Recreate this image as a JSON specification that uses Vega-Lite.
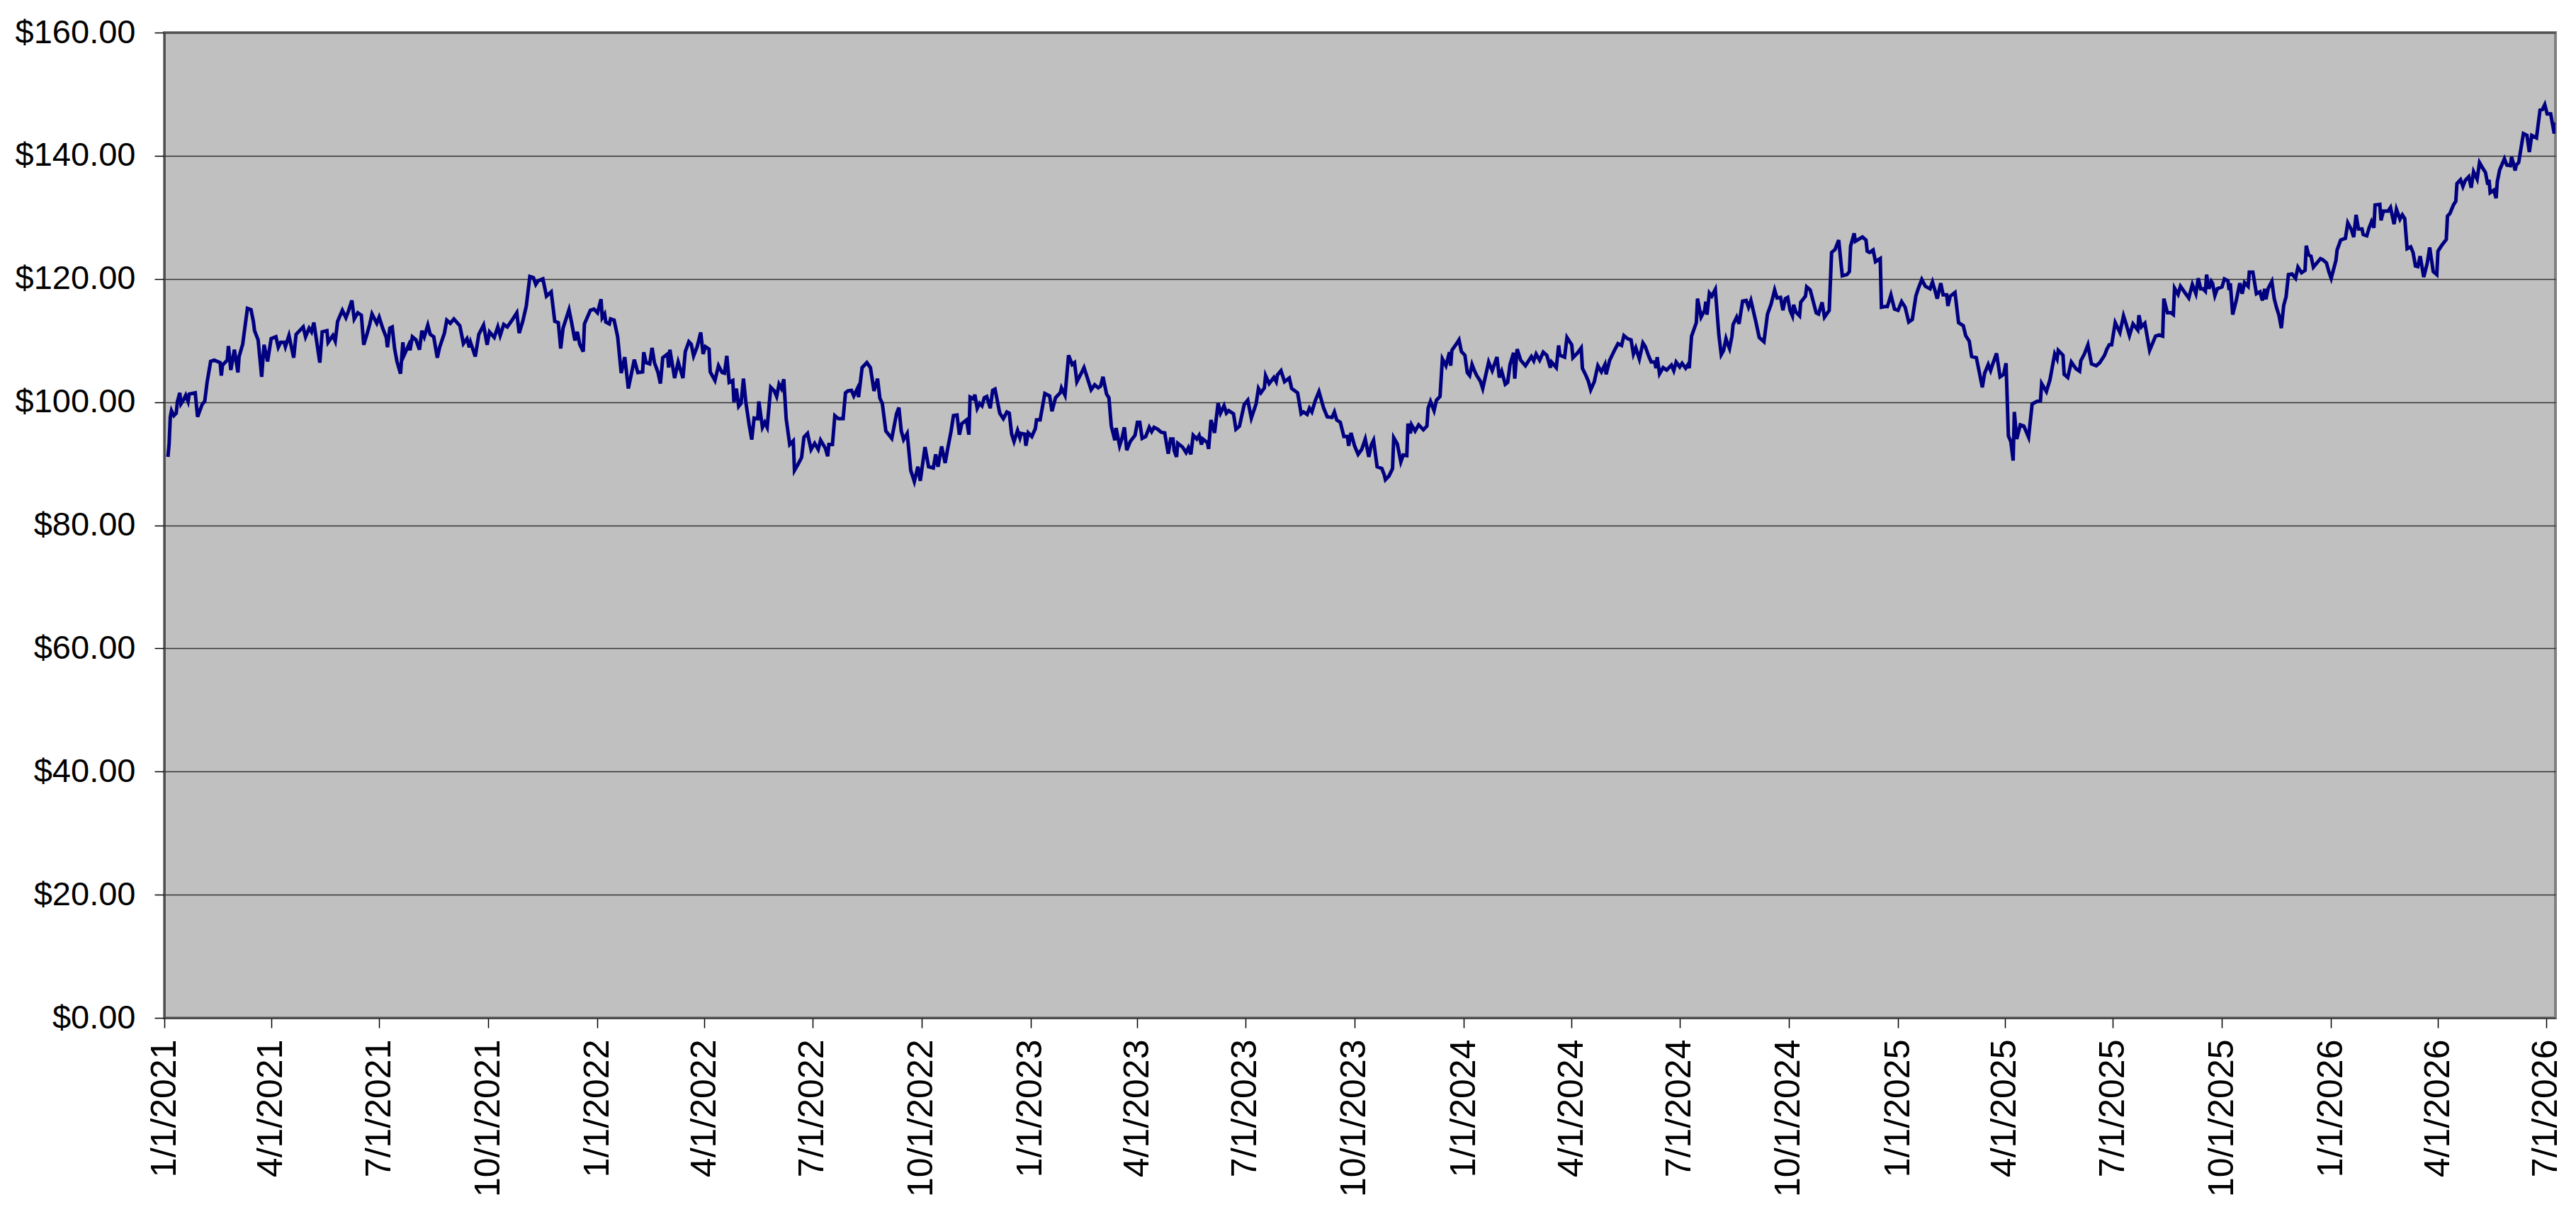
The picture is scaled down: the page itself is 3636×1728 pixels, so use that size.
{
  "$schema": "https://vega.github.io/schema/vega-lite/v6.json",
  "width": 3375,
  "height": 1391,
  "autosize": {"type": "none"},
  "padding": {"left": 232, "top": 46, "right": 29, "bottom": 291},
  "background": "white",
  "config": {
    "font": "Liberation Sans",
    "view": {"fill": "#C0C0C0", "stroke": "#808080", "strokeWidth": 4}
  },
  "data": {
    "values": [
      {"d": "2021-01-04", "p": 91.1}, {"d": "2021-01-05", "p": 93.2}, {"d": "2021-01-06", "p": 97.6}, {"d": "2021-01-07", "p": 98.6},
      {"d": "2021-01-09", "p": 97.8}, {"d": "2021-01-11", "p": 98.2}, {"d": "2021-01-12", "p": 100.1}, {"d": "2021-01-14", "p": 101.5},
      {"d": "2021-01-15", "p": 99.7}, {"d": "2021-01-17", "p": 100.3}, {"d": "2021-01-19", "p": 101.1}, {"d": "2021-01-21", "p": 100.1},
      {"d": "2021-01-22", "p": 101.3}, {"d": "2021-01-27", "p": 101.5}, {"d": "2021-01-29", "p": 97.6}, {"d": "2021-02-02", "p": 99.7},
      {"d": "2021-02-04", "p": 100.1}, {"d": "2021-02-06", "p": 103.2}, {"d": "2021-02-09", "p": 106.6}, {"d": "2021-02-12", "p": 106.8},
      {"d": "2021-02-17", "p": 106.4}, {"d": "2021-02-18", "p": 104.3}, {"d": "2021-02-19", "p": 106.0}, {"d": "2021-02-23", "p": 106.8},
      {"d": "2021-02-24", "p": 109.1}, {"d": "2021-02-26", "p": 105.2}, {"d": "2021-03-01", "p": 108.5}, {"d": "2021-03-04", "p": 104.8},
      {"d": "2021-03-05", "p": 107.4}, {"d": "2021-03-08", "p": 109.4}, {"d": "2021-03-12", "p": 115.2}, {"d": "2021-03-15", "p": 115.0},
      {"d": "2021-03-17", "p": 113.1}, {"d": "2021-03-18", "p": 111.6}, {"d": "2021-03-21", "p": 110.1}, {"d": "2021-03-24", "p": 104.1},
      {"d": "2021-03-26", "p": 109.3}, {"d": "2021-03-29", "p": 106.6}, {"d": "2021-04-01", "p": 110.3}, {"d": "2021-04-05", "p": 110.6},
      {"d": "2021-04-07", "p": 108.9}, {"d": "2021-04-09", "p": 109.7}, {"d": "2021-04-12", "p": 109.7}, {"d": "2021-04-13", "p": 109.0},
      {"d": "2021-04-16", "p": 110.8}, {"d": "2021-04-20", "p": 107.2}, {"d": "2021-04-22", "p": 111.0}, {"d": "2021-04-28", "p": 112.2},
      {"d": "2021-04-30", "p": 110.6}, {"d": "2021-05-03", "p": 112.0}, {"d": "2021-05-05", "p": 111.4}, {"d": "2021-05-07", "p": 112.9},
      {"d": "2021-05-12", "p": 106.4}, {"d": "2021-05-14", "p": 111.4}, {"d": "2021-05-18", "p": 111.6}, {"d": "2021-05-19", "p": 109.7},
      {"d": "2021-05-23", "p": 110.8}, {"d": "2021-05-25", "p": 109.9}, {"d": "2021-05-27", "p": 113.1}, {"d": "2021-05-31", "p": 114.9},
      {"d": "2021-06-03", "p": 113.7}, {"d": "2021-06-05", "p": 114.7}, {"d": "2021-06-08", "p": 116.5}, {"d": "2021-06-10", "p": 113.5},
      {"d": "2021-06-13", "p": 114.5}, {"d": "2021-06-16", "p": 114.1}, {"d": "2021-06-18", "p": 109.3}, {"d": "2021-06-21", "p": 111.2},
      {"d": "2021-06-23", "p": 112.6}, {"d": "2021-06-25", "p": 114.3}, {"d": "2021-06-29", "p": 112.8}, {"d": "2021-07-01", "p": 113.8},
      {"d": "2021-07-04", "p": 112.0}, {"d": "2021-07-07", "p": 110.5}, {"d": "2021-07-08", "p": 108.9}, {"d": "2021-07-10", "p": 112.0},
      {"d": "2021-07-12", "p": 112.2}, {"d": "2021-07-14", "p": 108.7}, {"d": "2021-07-16", "p": 106.6}, {"d": "2021-07-19", "p": 104.6},
      {"d": "2021-07-21", "p": 109.7}, {"d": "2021-07-22", "p": 107.6}, {"d": "2021-07-26", "p": 109.3}, {"d": "2021-07-27", "p": 108.4},
      {"d": "2021-07-29", "p": 110.6}, {"d": "2021-08-01", "p": 110.1}, {"d": "2021-08-04", "p": 108.5}, {"d": "2021-08-06", "p": 111.6},
      {"d": "2021-08-08", "p": 110.6}, {"d": "2021-08-11", "p": 112.5}, {"d": "2021-08-13", "p": 111.0}, {"d": "2021-08-16", "p": 110.6},
      {"d": "2021-08-19", "p": 107.2}, {"d": "2021-08-21", "p": 108.9}, {"d": "2021-08-25", "p": 111.2}, {"d": "2021-08-27", "p": 113.3},
      {"d": "2021-08-30", "p": 112.8}, {"d": "2021-09-02", "p": 113.5}, {"d": "2021-09-07", "p": 112.4}, {"d": "2021-09-10", "p": 109.5},
      {"d": "2021-09-13", "p": 110.3}, {"d": "2021-09-15", "p": 108.9}, {"d": "2021-09-16", "p": 109.7}, {"d": "2021-09-20", "p": 107.4},
      {"d": "2021-09-23", "p": 111.0}, {"d": "2021-09-27", "p": 112.5}, {"d": "2021-09-30", "p": 109.3}, {"d": "2021-10-02", "p": 111.4},
      {"d": "2021-10-06", "p": 110.5}, {"d": "2021-10-09", "p": 112.2}, {"d": "2021-10-11", "p": 110.8}, {"d": "2021-10-14", "p": 112.6},
      {"d": "2021-10-17", "p": 112.2}, {"d": "2021-10-21", "p": 113.3}, {"d": "2021-10-25", "p": 114.5}, {"d": "2021-10-27", "p": 111.2},
      {"d": "2021-10-30", "p": 113.1}, {"d": "2021-11-02", "p": 115.6}, {"d": "2021-11-05", "p": 120.4}, {"d": "2021-11-08", "p": 120.2},
      {"d": "2021-11-10", "p": 119.1}, {"d": "2021-11-12", "p": 119.7}, {"d": "2021-11-16", "p": 120.0}, {"d": "2021-11-19", "p": 117.2},
      {"d": "2021-11-23", "p": 117.9}, {"d": "2021-11-26", "p": 113.1}, {"d": "2021-11-29", "p": 112.9}, {"d": "2021-12-01", "p": 108.7},
      {"d": "2021-12-03", "p": 112.0}, {"d": "2021-12-08", "p": 115.0}, {"d": "2021-12-10", "p": 113.1}, {"d": "2021-12-13", "p": 110.0},
      {"d": "2021-12-15", "p": 111.4}, {"d": "2021-12-17", "p": 109.4}, {"d": "2021-12-20", "p": 108.2}, {"d": "2021-12-21", "p": 112.7},
      {"d": "2021-12-26", "p": 114.9}, {"d": "2021-12-29", "p": 115.1}, {"d": "2022-01-01", "p": 114.5}, {"d": "2022-01-04", "p": 116.7},
      {"d": "2022-01-05", "p": 113.7}, {"d": "2022-01-07", "p": 114.3}, {"d": "2022-01-08", "p": 113.0}, {"d": "2022-01-11", "p": 112.7},
      {"d": "2022-01-12", "p": 113.5}, {"d": "2022-01-15", "p": 113.3}, {"d": "2022-01-18", "p": 110.6}, {"d": "2022-01-21", "p": 104.7},
      {"d": "2022-01-24", "p": 107.3}, {"d": "2022-01-27", "p": 102.2}, {"d": "2022-01-30", "p": 105.0}, {"d": "2022-02-01", "p": 106.9},
      {"d": "2022-02-04", "p": 104.8}, {"d": "2022-02-08", "p": 104.9}, {"d": "2022-02-09", "p": 108.1}, {"d": "2022-02-11", "p": 106.4},
      {"d": "2022-02-14", "p": 106.2}, {"d": "2022-02-16", "p": 108.8}, {"d": "2022-02-18", "p": 106.4}, {"d": "2022-02-21", "p": 104.8},
      {"d": "2022-02-23", "p": 103.0}, {"d": "2022-02-25", "p": 107.2}, {"d": "2022-03-01", "p": 107.8}, {"d": "2022-03-02", "p": 105.6},
      {"d": "2022-03-03", "p": 108.5}, {"d": "2022-03-07", "p": 103.9}, {"d": "2022-03-10", "p": 106.5}, {"d": "2022-03-14", "p": 103.9},
      {"d": "2022-03-16", "p": 108.2}, {"d": "2022-03-19", "p": 109.8}, {"d": "2022-03-21", "p": 109.4}, {"d": "2022-03-23", "p": 107.5},
      {"d": "2022-03-26", "p": 109.0}, {"d": "2022-03-29", "p": 111.3}, {"d": "2022-03-31", "p": 107.8}, {"d": "2022-04-02", "p": 109.0},
      {"d": "2022-04-05", "p": 108.6}, {"d": "2022-04-06", "p": 104.9}, {"d": "2022-04-10", "p": 103.5}, {"d": "2022-04-13", "p": 105.9},
      {"d": "2022-04-16", "p": 104.8}, {"d": "2022-04-18", "p": 104.7}, {"d": "2022-04-20", "p": 107.5}, {"d": "2022-04-22", "p": 103.2},
      {"d": "2022-04-25", "p": 103.5}, {"d": "2022-04-26", "p": 100.0}, {"d": "2022-04-28", "p": 102.2}, {"d": "2022-04-30", "p": 99.3},
      {"d": "2022-05-02", "p": 99.8}, {"d": "2022-05-04", "p": 103.8}, {"d": "2022-05-06", "p": 100.0}, {"d": "2022-05-09", "p": 96.1},
      {"d": "2022-05-11", "p": 93.9}, {"d": "2022-05-13", "p": 97.4}, {"d": "2022-05-16", "p": 97.3}, {"d": "2022-05-17", "p": 100.1},
      {"d": "2022-05-20", "p": 95.9}, {"d": "2022-05-22", "p": 96.7}, {"d": "2022-05-24", "p": 95.9}, {"d": "2022-05-27", "p": 102.4},
      {"d": "2022-05-30", "p": 101.8}, {"d": "2022-06-01", "p": 100.9}, {"d": "2022-06-03", "p": 102.9}, {"d": "2022-06-05", "p": 102.2},
      {"d": "2022-06-07", "p": 103.7}, {"d": "2022-06-09", "p": 97.3}, {"d": "2022-06-12", "p": 93.1}, {"d": "2022-06-15", "p": 93.7},
      {"d": "2022-06-16", "p": 88.9}, {"d": "2022-06-19", "p": 89.9}, {"d": "2022-06-22", "p": 91.0}, {"d": "2022-06-24", "p": 94.3},
      {"d": "2022-06-27", "p": 94.9}, {"d": "2022-06-30", "p": 92.3}, {"d": "2022-07-03", "p": 93.3}, {"d": "2022-07-06", "p": 92.3},
      {"d": "2022-07-08", "p": 93.8}, {"d": "2022-07-12", "p": 92.5}, {"d": "2022-07-14", "p": 91.2}, {"d": "2022-07-15", "p": 93.1},
      {"d": "2022-07-18", "p": 93.1}, {"d": "2022-07-20", "p": 97.8}, {"d": "2022-07-23", "p": 97.3}, {"d": "2022-07-27", "p": 97.3},
      {"d": "2022-07-29", "p": 101.5}, {"d": "2022-07-31", "p": 101.8}, {"d": "2022-08-03", "p": 101.9}, {"d": "2022-08-05", "p": 101.0},
      {"d": "2022-08-08", "p": 102.2}, {"d": "2022-08-09", "p": 100.8}, {"d": "2022-08-12", "p": 105.6}, {"d": "2022-08-16", "p": 106.4},
      {"d": "2022-08-19", "p": 105.6}, {"d": "2022-08-22", "p": 101.8}, {"d": "2022-08-25", "p": 103.8}, {"d": "2022-08-27", "p": 100.6},
      {"d": "2022-08-29", "p": 99.8}, {"d": "2022-09-01", "p": 95.3}, {"d": "2022-09-06", "p": 94.1}, {"d": "2022-09-10", "p": 98.1},
      {"d": "2022-09-12", "p": 99.1}, {"d": "2022-09-14", "p": 95.3}, {"d": "2022-09-16", "p": 93.9}, {"d": "2022-09-19", "p": 94.9},
      {"d": "2022-09-22", "p": 88.9}, {"d": "2022-09-25", "p": 87.1}, {"d": "2022-09-28", "p": 89.5}, {"d": "2022-09-30", "p": 87.2},
      {"d": "2022-10-04", "p": 92.7}, {"d": "2022-10-07", "p": 89.5}, {"d": "2022-10-11", "p": 89.3}, {"d": "2022-10-13", "p": 91.5},
      {"d": "2022-10-15", "p": 89.5}, {"d": "2022-10-18", "p": 92.8}, {"d": "2022-10-21", "p": 90.1}, {"d": "2022-10-23", "p": 92.3},
      {"d": "2022-10-26", "p": 95.3}, {"d": "2022-10-28", "p": 97.8}, {"d": "2022-10-31", "p": 97.9}, {"d": "2022-11-02", "p": 94.7},
      {"d": "2022-11-04", "p": 96.5}, {"d": "2022-11-08", "p": 97.1}, {"d": "2022-11-10", "p": 94.7}, {"d": "2022-11-11", "p": 100.8},
      {"d": "2022-11-14", "p": 100.5}, {"d": "2022-11-15", "p": 101.2}, {"d": "2022-11-17", "p": 99.0}, {"d": "2022-11-19", "p": 99.8},
      {"d": "2022-11-21", "p": 99.4}, {"d": "2022-11-23", "p": 100.7}, {"d": "2022-11-25", "p": 100.9}, {"d": "2022-11-28", "p": 99.0},
      {"d": "2022-11-30", "p": 101.9}, {"d": "2022-12-02", "p": 102.1}, {"d": "2022-12-06", "p": 98.2}, {"d": "2022-12-09", "p": 97.3},
      {"d": "2022-12-12", "p": 98.4}, {"d": "2022-12-14", "p": 98.2}, {"d": "2022-12-16", "p": 94.8}, {"d": "2022-12-18", "p": 93.6},
      {"d": "2022-12-21", "p": 95.4}, {"d": "2022-12-23", "p": 94.2}, {"d": "2022-12-24", "p": 94.9}, {"d": "2022-12-27", "p": 94.8},
      {"d": "2022-12-28", "p": 92.9}, {"d": "2022-12-30", "p": 95.0}, {"d": "2023-01-02", "p": 94.4}, {"d": "2023-01-05", "p": 95.7},
      {"d": "2023-01-06", "p": 97.1}, {"d": "2023-01-09", "p": 97.1}, {"d": "2023-01-13", "p": 101.4}, {"d": "2023-01-17", "p": 101.0},
      {"d": "2023-01-19", "p": 98.5}, {"d": "2023-01-22", "p": 100.7}, {"d": "2023-01-24", "p": 101.1}, {"d": "2023-01-26", "p": 101.5},
      {"d": "2023-01-27", "p": 102.3}, {"d": "2023-01-30", "p": 101.1}, {"d": "2023-02-02", "p": 107.6}, {"d": "2023-02-05", "p": 106.1},
      {"d": "2023-02-07", "p": 106.4}, {"d": "2023-02-09", "p": 103.3}, {"d": "2023-02-13", "p": 104.8}, {"d": "2023-02-15", "p": 105.6},
      {"d": "2023-02-18", "p": 103.8}, {"d": "2023-02-21", "p": 102.0}, {"d": "2023-02-24", "p": 102.8}, {"d": "2023-02-27", "p": 102.3},
      {"d": "2023-03-01", "p": 102.6}, {"d": "2023-03-03", "p": 104.1}, {"d": "2023-03-06", "p": 101.3}, {"d": "2023-03-08", "p": 100.7},
      {"d": "2023-03-10", "p": 96.1}, {"d": "2023-03-13", "p": 93.8}, {"d": "2023-03-14", "p": 95.8}, {"d": "2023-03-17", "p": 92.9},
      {"d": "2023-03-19", "p": 94.1}, {"d": "2023-03-21", "p": 95.9}, {"d": "2023-03-23", "p": 92.2}, {"d": "2023-03-26", "p": 93.6},
      {"d": "2023-03-30", "p": 94.6}, {"d": "2023-04-01", "p": 96.7}, {"d": "2023-04-03", "p": 96.7}, {"d": "2023-04-05", "p": 94.1},
      {"d": "2023-04-08", "p": 94.4}, {"d": "2023-04-11", "p": 95.9}, {"d": "2023-04-13", "p": 95.2}, {"d": "2023-04-15", "p": 95.9},
      {"d": "2023-04-18", "p": 95.6}, {"d": "2023-04-21", "p": 95.1}, {"d": "2023-04-24", "p": 95.0}, {"d": "2023-04-27", "p": 91.6},
      {"d": "2023-04-29", "p": 94.0}, {"d": "2023-05-01", "p": 94.0}, {"d": "2023-05-02", "p": 92.1}, {"d": "2023-05-04", "p": 91.1},
      {"d": "2023-05-05", "p": 93.3}, {"d": "2023-05-09", "p": 92.7}, {"d": "2023-05-12", "p": 91.8}, {"d": "2023-05-14", "p": 92.6},
      {"d": "2023-05-16", "p": 91.5}, {"d": "2023-05-18", "p": 94.6}, {"d": "2023-05-21", "p": 94.0}, {"d": "2023-05-23", "p": 94.6},
      {"d": "2023-05-25", "p": 93.1}, {"d": "2023-05-26", "p": 94.0}, {"d": "2023-05-30", "p": 93.4}, {"d": "2023-05-31", "p": 92.4},
      {"d": "2023-06-02", "p": 97.1}, {"d": "2023-06-05", "p": 95.0}, {"d": "2023-06-08", "p": 99.8}, {"d": "2023-06-10", "p": 98.2},
      {"d": "2023-06-13", "p": 99.4}, {"d": "2023-06-15", "p": 98.2}, {"d": "2023-06-17", "p": 98.6}, {"d": "2023-06-21", "p": 98.1},
      {"d": "2023-06-23", "p": 95.6}, {"d": "2023-06-26", "p": 96.1}, {"d": "2023-06-30", "p": 99.6}, {"d": "2023-07-03", "p": 100.3},
      {"d": "2023-07-06", "p": 97.4}, {"d": "2023-07-10", "p": 99.7}, {"d": "2023-07-12", "p": 102.2}, {"d": "2023-07-14", "p": 101.5},
      {"d": "2023-07-17", "p": 102.3}, {"d": "2023-07-18", "p": 104.3}, {"d": "2023-07-21", "p": 103.0}, {"d": "2023-07-25", "p": 104.0},
      {"d": "2023-07-27", "p": 103.3}, {"d": "2023-07-28", "p": 104.4}, {"d": "2023-07-31", "p": 105.1}, {"d": "2023-08-03", "p": 103.3},
      {"d": "2023-08-07", "p": 103.9}, {"d": "2023-08-09", "p": 102.2}, {"d": "2023-08-14", "p": 101.5}, {"d": "2023-08-17", "p": 98.1},
      {"d": "2023-08-19", "p": 98.4}, {"d": "2023-08-22", "p": 98.0}, {"d": "2023-08-24", "p": 99.0}, {"d": "2023-08-26", "p": 98.4},
      {"d": "2023-08-29", "p": 100.3}, {"d": "2023-09-01", "p": 101.7}, {"d": "2023-09-05", "p": 99.0}, {"d": "2023-09-08", "p": 97.6},
      {"d": "2023-09-12", "p": 97.5}, {"d": "2023-09-14", "p": 98.4}, {"d": "2023-09-16", "p": 97.1}, {"d": "2023-09-19", "p": 96.7},
      {"d": "2023-09-22", "p": 94.4}, {"d": "2023-09-25", "p": 94.4}, {"d": "2023-09-26", "p": 92.9}, {"d": "2023-09-28", "p": 95.0},
      {"d": "2023-10-01", "p": 92.9}, {"d": "2023-10-04", "p": 91.5}, {"d": "2023-10-07", "p": 92.3}, {"d": "2023-10-10", "p": 94.0},
      {"d": "2023-10-13", "p": 91.1}, {"d": "2023-10-15", "p": 93.0}, {"d": "2023-10-17", "p": 93.8}, {"d": "2023-10-20", "p": 89.5},
      {"d": "2023-10-24", "p": 89.2}, {"d": "2023-10-26", "p": 88.2}, {"d": "2023-10-27", "p": 87.4}, {"d": "2023-10-30", "p": 88.0},
      {"d": "2023-11-02", "p": 89.2}, {"d": "2023-11-03", "p": 94.2}, {"d": "2023-11-06", "p": 93.2}, {"d": "2023-11-09", "p": 90.3},
      {"d": "2023-11-11", "p": 91.4}, {"d": "2023-11-14", "p": 91.3}, {"d": "2023-11-15", "p": 96.5}, {"d": "2023-11-17", "p": 94.9},
      {"d": "2023-11-18", "p": 96.3}, {"d": "2023-11-21", "p": 95.3}, {"d": "2023-11-24", "p": 96.3}, {"d": "2023-11-28", "p": 95.5},
      {"d": "2023-12-01", "p": 96.1}, {"d": "2023-12-02", "p": 99.0}, {"d": "2023-12-04", "p": 100.1}, {"d": "2023-12-07", "p": 98.6},
      {"d": "2023-12-09", "p": 100.3}, {"d": "2023-12-12", "p": 100.9}, {"d": "2023-12-14", "p": 107.0}, {"d": "2023-12-17", "p": 105.9},
      {"d": "2023-12-20", "p": 108.1}, {"d": "2023-12-21", "p": 105.9}, {"d": "2023-12-22", "p": 108.4}, {"d": "2023-12-26", "p": 109.5},
      {"d": "2023-12-28", "p": 110.1}, {"d": "2023-12-30", "p": 108.2}, {"d": "2024-01-02", "p": 107.6}, {"d": "2024-01-04", "p": 104.8},
      {"d": "2024-01-06", "p": 104.3}, {"d": "2024-01-08", "p": 106.1}, {"d": "2024-01-10", "p": 105.1}, {"d": "2024-01-12", "p": 104.3},
      {"d": "2024-01-15", "p": 103.4}, {"d": "2024-01-17", "p": 102.2}, {"d": "2024-01-22", "p": 106.5}, {"d": "2024-01-25", "p": 105.1},
      {"d": "2024-01-29", "p": 107.3}, {"d": "2024-01-31", "p": 104.0}, {"d": "2024-02-02", "p": 105.0}, {"d": "2024-02-05", "p": 102.9},
      {"d": "2024-02-07", "p": 103.2}, {"d": "2024-02-09", "p": 106.1}, {"d": "2024-02-12", "p": 108.0}, {"d": "2024-02-13", "p": 103.8},
      {"d": "2024-02-15", "p": 108.6}, {"d": "2024-02-18", "p": 106.8}, {"d": "2024-02-22", "p": 105.9}, {"d": "2024-02-24", "p": 106.5},
      {"d": "2024-02-27", "p": 107.4}, {"d": "2024-02-29", "p": 106.7}, {"d": "2024-03-02", "p": 107.8}, {"d": "2024-03-05", "p": 106.8},
      {"d": "2024-03-08", "p": 108.1}, {"d": "2024-03-11", "p": 107.6}, {"d": "2024-03-14", "p": 105.6}, {"d": "2024-03-15", "p": 106.5},
      {"d": "2024-03-19", "p": 105.6}, {"d": "2024-03-21", "p": 109.2}, {"d": "2024-03-22", "p": 107.6}, {"d": "2024-03-26", "p": 107.3},
      {"d": "2024-03-28", "p": 110.5}, {"d": "2024-04-01", "p": 109.3}, {"d": "2024-04-02", "p": 107.2}, {"d": "2024-04-06", "p": 108.0},
      {"d": "2024-04-09", "p": 108.8}, {"d": "2024-04-10", "p": 105.5}, {"d": "2024-04-13", "p": 104.3}, {"d": "2024-04-15", "p": 103.4},
      {"d": "2024-04-17", "p": 102.0}, {"d": "2024-04-20", "p": 103.3}, {"d": "2024-04-23", "p": 105.9}, {"d": "2024-04-26", "p": 104.9},
      {"d": "2024-04-29", "p": 106.1}, {"d": "2024-04-30", "p": 104.5}, {"d": "2024-05-03", "p": 106.8}, {"d": "2024-05-07", "p": 108.4},
      {"d": "2024-05-10", "p": 109.5}, {"d": "2024-05-13", "p": 109.2}, {"d": "2024-05-15", "p": 110.8}, {"d": "2024-05-18", "p": 110.3},
      {"d": "2024-05-21", "p": 110.1}, {"d": "2024-05-23", "p": 107.8}, {"d": "2024-05-25", "p": 108.8}, {"d": "2024-05-28", "p": 107.0},
      {"d": "2024-05-31", "p": 109.6}, {"d": "2024-06-02", "p": 109.0}, {"d": "2024-06-05", "p": 107.4}, {"d": "2024-06-07", "p": 106.5},
      {"d": "2024-06-10", "p": 106.5}, {"d": "2024-06-11", "p": 105.5}, {"d": "2024-06-12", "p": 107.3}, {"d": "2024-06-14", "p": 104.6},
      {"d": "2024-06-17", "p": 105.6}, {"d": "2024-06-20", "p": 105.2}, {"d": "2024-06-24", "p": 106.0}, {"d": "2024-06-26", "p": 105.1},
      {"d": "2024-06-28", "p": 106.5}, {"d": "2024-07-01", "p": 105.7}, {"d": "2024-07-03", "p": 106.3}, {"d": "2024-07-06", "p": 105.5},
      {"d": "2024-07-08", "p": 106.1}, {"d": "2024-07-09", "p": 105.5}, {"d": "2024-07-11", "p": 110.7}, {"d": "2024-07-13", "p": 111.8},
      {"d": "2024-07-15", "p": 112.9}, {"d": "2024-07-16", "p": 116.8}, {"d": "2024-07-19", "p": 113.8}, {"d": "2024-07-22", "p": 114.9},
      {"d": "2024-07-23", "p": 116.3}, {"d": "2024-07-24", "p": 114.2}, {"d": "2024-07-26", "p": 117.7}, {"d": "2024-07-28", "p": 117.2},
      {"d": "2024-07-31", "p": 118.3}, {"d": "2024-08-03", "p": 110.9}, {"d": "2024-08-05", "p": 107.7}, {"d": "2024-08-07", "p": 108.4},
      {"d": "2024-08-09", "p": 110.3}, {"d": "2024-08-10", "p": 109.7}, {"d": "2024-08-12", "p": 108.7}, {"d": "2024-08-14", "p": 110.7},
      {"d": "2024-08-15", "p": 112.6}, {"d": "2024-08-18", "p": 113.8}, {"d": "2024-08-20", "p": 112.7}, {"d": "2024-08-23", "p": 116.4},
      {"d": "2024-08-26", "p": 116.5}, {"d": "2024-08-28", "p": 115.4}, {"d": "2024-08-30", "p": 116.5}, {"d": "2024-09-03", "p": 113.2},
      {"d": "2024-09-06", "p": 110.5}, {"d": "2024-09-10", "p": 109.8}, {"d": "2024-09-13", "p": 114.3}, {"d": "2024-09-16", "p": 115.9},
      {"d": "2024-09-19", "p": 118.2}, {"d": "2024-09-21", "p": 116.9}, {"d": "2024-09-24", "p": 117.0}, {"d": "2024-09-26", "p": 114.9},
      {"d": "2024-09-28", "p": 116.8}, {"d": "2024-09-30", "p": 117.0}, {"d": "2024-10-02", "p": 114.9}, {"d": "2024-10-04", "p": 114.0},
      {"d": "2024-10-05", "p": 115.8}, {"d": "2024-10-07", "p": 114.6}, {"d": "2024-10-10", "p": 114.0}, {"d": "2024-10-11", "p": 116.2},
      {"d": "2024-10-15", "p": 117.2}, {"d": "2024-10-16", "p": 118.7}, {"d": "2024-10-19", "p": 118.2}, {"d": "2024-10-24", "p": 114.5},
      {"d": "2024-10-26", "p": 114.3}, {"d": "2024-10-29", "p": 116.2}, {"d": "2024-10-31", "p": 113.8}, {"d": "2024-11-04", "p": 114.9},
      {"d": "2024-11-06", "p": 124.3}, {"d": "2024-11-09", "p": 124.8}, {"d": "2024-11-12", "p": 126.3}, {"d": "2024-11-15", "p": 120.5},
      {"d": "2024-11-19", "p": 120.7}, {"d": "2024-11-21", "p": 121.2}, {"d": "2024-11-22", "p": 125.3}, {"d": "2024-11-25", "p": 127.4},
      {"d": "2024-11-26", "p": 126.1}, {"d": "2024-12-02", "p": 126.8}, {"d": "2024-12-05", "p": 126.3}, {"d": "2024-12-06", "p": 124.5},
      {"d": "2024-12-08", "p": 124.3}, {"d": "2024-12-11", "p": 124.7}, {"d": "2024-12-13", "p": 122.8}, {"d": "2024-12-17", "p": 123.3},
      {"d": "2024-12-18", "p": 115.4}, {"d": "2024-12-21", "p": 115.5}, {"d": "2024-12-23", "p": 115.5}, {"d": "2024-12-26", "p": 117.4},
      {"d": "2024-12-29", "p": 115.1}, {"d": "2025-01-01", "p": 114.9}, {"d": "2025-01-04", "p": 116.3}, {"d": "2025-01-07", "p": 115.4},
      {"d": "2025-01-10", "p": 113.0}, {"d": "2025-01-13", "p": 113.4}, {"d": "2025-01-16", "p": 117.2}, {"d": "2025-01-18", "p": 118.4},
      {"d": "2025-01-21", "p": 119.9}, {"d": "2025-01-24", "p": 118.8}, {"d": "2025-01-28", "p": 118.4}, {"d": "2025-01-30", "p": 119.5},
      {"d": "2025-02-01", "p": 118.2}, {"d": "2025-02-03", "p": 116.8}, {"d": "2025-02-06", "p": 119.3}, {"d": "2025-02-08", "p": 117.4},
      {"d": "2025-02-11", "p": 117.4}, {"d": "2025-02-12", "p": 115.6}, {"d": "2025-02-14", "p": 117.2}, {"d": "2025-02-18", "p": 117.8},
      {"d": "2025-02-21", "p": 112.9}, {"d": "2025-02-25", "p": 112.4}, {"d": "2025-02-27", "p": 110.8}, {"d": "2025-03-02", "p": 109.9},
      {"d": "2025-03-04", "p": 107.4}, {"d": "2025-03-08", "p": 107.2}, {"d": "2025-03-10", "p": 105.3}, {"d": "2025-03-13", "p": 102.4},
      {"d": "2025-03-15", "p": 104.7}, {"d": "2025-03-18", "p": 106.1}, {"d": "2025-03-20", "p": 105.1}, {"d": "2025-03-22", "p": 106.3},
      {"d": "2025-03-25", "p": 107.9}, {"d": "2025-03-28", "p": 104.1}, {"d": "2025-03-31", "p": 104.5}, {"d": "2025-04-02", "p": 106.3},
      {"d": "2025-04-04", "p": 94.5}, {"d": "2025-04-06", "p": 93.6}, {"d": "2025-04-08", "p": 90.5}, {"d": "2025-04-09", "p": 98.4},
      {"d": "2025-04-11", "p": 94.0}, {"d": "2025-04-14", "p": 96.3}, {"d": "2025-04-17", "p": 96.1}, {"d": "2025-04-21", "p": 94.3},
      {"d": "2025-04-24", "p": 99.7}, {"d": "2025-04-28", "p": 100.1}, {"d": "2025-05-01", "p": 100.2}, {"d": "2025-05-02", "p": 103.0},
      {"d": "2025-05-06", "p": 101.7}, {"d": "2025-05-09", "p": 103.6}, {"d": "2025-05-13", "p": 107.8}, {"d": "2025-05-15", "p": 107.0},
      {"d": "2025-05-16", "p": 108.4}, {"d": "2025-05-20", "p": 107.6}, {"d": "2025-05-21", "p": 104.5}, {"d": "2025-05-24", "p": 104.0},
      {"d": "2025-05-27", "p": 106.5}, {"d": "2025-05-31", "p": 105.4}, {"d": "2025-06-03", "p": 105.0}, {"d": "2025-06-04", "p": 106.7},
      {"d": "2025-06-07", "p": 107.8}, {"d": "2025-06-10", "p": 109.3}, {"d": "2025-06-13", "p": 106.2}, {"d": "2025-06-17", "p": 105.9},
      {"d": "2025-06-20", "p": 106.4}, {"d": "2025-06-24", "p": 107.6}, {"d": "2025-06-26", "p": 108.6}, {"d": "2025-06-28", "p": 109.3},
      {"d": "2025-06-30", "p": 109.3}, {"d": "2025-07-03", "p": 112.9}, {"d": "2025-07-07", "p": 111.3}, {"d": "2025-07-10", "p": 114.0},
      {"d": "2025-07-12", "p": 112.8}, {"d": "2025-07-15", "p": 110.8}, {"d": "2025-07-18", "p": 112.7}, {"d": "2025-07-22", "p": 111.7},
      {"d": "2025-07-23", "p": 114.1}, {"d": "2025-07-25", "p": 112.2}, {"d": "2025-07-28", "p": 112.8}, {"d": "2025-08-01", "p": 108.4},
      {"d": "2025-08-06", "p": 110.7}, {"d": "2025-08-09", "p": 110.9}, {"d": "2025-08-12", "p": 110.7}, {"d": "2025-08-13", "p": 116.8},
      {"d": "2025-08-16", "p": 114.5}, {"d": "2025-08-19", "p": 114.5}, {"d": "2025-08-21", "p": 114.2}, {"d": "2025-08-22", "p": 118.5},
      {"d": "2025-08-25", "p": 117.5}, {"d": "2025-08-27", "p": 118.8}, {"d": "2025-08-31", "p": 117.7}, {"d": "2025-09-03", "p": 116.9},
      {"d": "2025-09-06", "p": 119.1}, {"d": "2025-09-09", "p": 117.6}, {"d": "2025-09-11", "p": 120.1}, {"d": "2025-09-13", "p": 118.4},
      {"d": "2025-09-15", "p": 118.4}, {"d": "2025-09-17", "p": 118.0}, {"d": "2025-09-18", "p": 120.7}, {"d": "2025-09-20", "p": 118.4},
      {"d": "2025-09-22", "p": 119.6}, {"d": "2025-09-23", "p": 119.3}, {"d": "2025-09-25", "p": 117.3}, {"d": "2025-09-27", "p": 118.4},
      {"d": "2025-10-01", "p": 118.7}, {"d": "2025-10-03", "p": 120.0}, {"d": "2025-10-06", "p": 119.7}, {"d": "2025-10-07", "p": 118.2},
      {"d": "2025-10-08", "p": 119.3}, {"d": "2025-10-10", "p": 114.2}, {"d": "2025-10-13", "p": 116.5}, {"d": "2025-10-16", "p": 119.3},
      {"d": "2025-10-18", "p": 117.6}, {"d": "2025-10-20", "p": 119.4}, {"d": "2025-10-23", "p": 118.8}, {"d": "2025-10-24", "p": 121.1},
      {"d": "2025-10-27", "p": 121.1}, {"d": "2025-10-30", "p": 117.6}, {"d": "2025-11-02", "p": 117.9}, {"d": "2025-11-04", "p": 116.5},
      {"d": "2025-11-06", "p": 118.4}, {"d": "2025-11-07", "p": 116.7}, {"d": "2025-11-09", "p": 118.5}, {"d": "2025-11-12", "p": 119.6},
      {"d": "2025-11-14", "p": 116.8}, {"d": "2025-11-16", "p": 115.3}, {"d": "2025-11-18", "p": 114.1}, {"d": "2025-11-20", "p": 112.0},
      {"d": "2025-11-22", "p": 115.7}, {"d": "2025-11-24", "p": 117.1}, {"d": "2025-11-26", "p": 120.7}, {"d": "2025-11-29", "p": 120.8},
      {"d": "2025-12-02", "p": 120.1}, {"d": "2025-12-04", "p": 121.9}, {"d": "2025-12-07", "p": 121.0}, {"d": "2025-12-10", "p": 121.4},
      {"d": "2025-12-11", "p": 125.4}, {"d": "2025-12-13", "p": 123.9}, {"d": "2025-12-15", "p": 123.7}, {"d": "2025-12-17", "p": 121.9},
      {"d": "2025-12-20", "p": 122.6}, {"d": "2025-12-23", "p": 123.3}, {"d": "2025-12-25", "p": 123.1}, {"d": "2025-12-28", "p": 122.6},
      {"d": "2025-12-30", "p": 121.2}, {"d": "2026-01-01", "p": 120.1}, {"d": "2026-01-05", "p": 123.0}, {"d": "2026-01-06", "p": 124.7},
      {"d": "2026-01-09", "p": 126.3}, {"d": "2026-01-13", "p": 126.6}, {"d": "2026-01-15", "p": 129.1}, {"d": "2026-01-18", "p": 128.0},
      {"d": "2026-01-20", "p": 126.8}, {"d": "2026-01-22", "p": 130.4}, {"d": "2026-01-24", "p": 128.1}, {"d": "2026-01-27", "p": 128.1},
      {"d": "2026-01-28", "p": 127.2}, {"d": "2026-01-31", "p": 127.0}, {"d": "2026-02-02", "p": 128.3}, {"d": "2026-02-04", "p": 129.3},
      {"d": "2026-02-06", "p": 128.3}, {"d": "2026-02-07", "p": 132.0}, {"d": "2026-02-11", "p": 132.1}, {"d": "2026-02-12", "p": 129.5},
      {"d": "2026-02-14", "p": 131.0}, {"d": "2026-02-18", "p": 131.0}, {"d": "2026-02-20", "p": 131.6}, {"d": "2026-02-23", "p": 128.9},
      {"d": "2026-02-25", "p": 131.3}, {"d": "2026-02-28", "p": 129.7}, {"d": "2026-03-02", "p": 130.4}, {"d": "2026-03-04", "p": 129.8},
      {"d": "2026-03-06", "p": 124.9}, {"d": "2026-03-09", "p": 125.2}, {"d": "2026-03-11", "p": 124.3}, {"d": "2026-03-13", "p": 122.1},
      {"d": "2026-03-15", "p": 122.0}, {"d": "2026-03-17", "p": 123.7}, {"d": "2026-03-20", "p": 120.3}, {"d": "2026-03-23", "p": 122.6},
      {"d": "2026-03-25", "p": 125.1}, {"d": "2026-03-28", "p": 121.2}, {"d": "2026-03-31", "p": 120.7}, {"d": "2026-04-01", "p": 124.5},
      {"d": "2026-04-04", "p": 125.4}, {"d": "2026-04-08", "p": 126.4}, {"d": "2026-04-09", "p": 130.2}, {"d": "2026-04-11", "p": 130.6},
      {"d": "2026-04-14", "p": 132.0}, {"d": "2026-04-16", "p": 132.6}, {"d": "2026-04-17", "p": 135.5}, {"d": "2026-04-20", "p": 136.1},
      {"d": "2026-04-22", "p": 135.0}, {"d": "2026-04-24", "p": 136.0}, {"d": "2026-04-27", "p": 136.6}, {"d": "2026-04-29", "p": 134.8},
      {"d": "2026-05-01", "p": 137.4}, {"d": "2026-05-04", "p": 136.2}, {"d": "2026-05-06", "p": 138.9}, {"d": "2026-05-09", "p": 137.9},
      {"d": "2026-05-11", "p": 137.3}, {"d": "2026-05-13", "p": 135.3}, {"d": "2026-05-14", "p": 136.1}, {"d": "2026-05-15", "p": 134.0},
      {"d": "2026-05-18", "p": 134.4}, {"d": "2026-05-20", "p": 133.1}, {"d": "2026-05-21", "p": 135.8}, {"d": "2026-05-23", "p": 137.7},
      {"d": "2026-05-27", "p": 139.5}, {"d": "2026-05-29", "p": 138.5}, {"d": "2026-06-01", "p": 138.4}, {"d": "2026-06-02", "p": 139.8},
      {"d": "2026-06-04", "p": 138.5}, {"d": "2026-06-05", "p": 137.6}, {"d": "2026-06-06", "p": 138.5}, {"d": "2026-06-08", "p": 138.9},
      {"d": "2026-06-12", "p": 143.6}, {"d": "2026-06-15", "p": 143.3}, {"d": "2026-06-17", "p": 140.6}, {"d": "2026-06-19", "p": 143.3},
      {"d": "2026-06-23", "p": 142.9}, {"d": "2026-06-26", "p": 147.4}, {"d": "2026-06-28", "p": 147.5}, {"d": "2026-06-30", "p": 148.3},
      {"d": "2026-07-02", "p": 146.8}, {"d": "2026-07-05", "p": 146.8}, {"d": "2026-07-06", "p": 145.7}, {"d": "2026-07-08", "p": 143.6},
      {"d": "2026-07-09", "p": 145.4}
    ]
  },
  "mark": {"type": "line", "color": "#000080", "strokeWidth": 5, "clip": true},
  "encoding": {
    "x": {
      "field": "d",
      "type": "temporal",
      "scale": {
        "type": "utc",
        "domain": [
          {"year": 2021, "month": 1, "date": 1, "utc": true},
          {"year": 2026, "month": 7, "date": 9, "utc": true}
        ]
      },
      "axis": {
        "title": null,
        "grid": false,
        "values": [
          {"year": 2021, "month": 1, "date": 1, "utc": true}, {"year": 2021, "month": 4, "date": 1, "utc": true},
          {"year": 2021, "month": 7, "date": 1, "utc": true}, {"year": 2021, "month": 10, "date": 1, "utc": true},
          {"year": 2022, "month": 1, "date": 1, "utc": true}, {"year": 2022, "month": 4, "date": 1, "utc": true},
          {"year": 2022, "month": 7, "date": 1, "utc": true}, {"year": 2022, "month": 10, "date": 1, "utc": true},
          {"year": 2023, "month": 1, "date": 1, "utc": true}, {"year": 2023, "month": 4, "date": 1, "utc": true},
          {"year": 2023, "month": 7, "date": 1, "utc": true}, {"year": 2023, "month": 10, "date": 1, "utc": true},
          {"year": 2024, "month": 1, "date": 1, "utc": true}, {"year": 2024, "month": 4, "date": 1, "utc": true},
          {"year": 2024, "month": 7, "date": 1, "utc": true}, {"year": 2024, "month": 10, "date": 1, "utc": true},
          {"year": 2025, "month": 1, "date": 1, "utc": true}, {"year": 2025, "month": 4, "date": 1, "utc": true},
          {"year": 2025, "month": 7, "date": 1, "utc": true}, {"year": 2025, "month": 10, "date": 1, "utc": true},
          {"year": 2026, "month": 1, "date": 1, "utc": true}, {"year": 2026, "month": 4, "date": 1, "utc": true},
          {"year": 2026, "month": 7, "date": 1, "utc": true}
        ],
        "format": "%-m/%-d/%Y",
        "labelAngle": -90,
        "labelFont": "Liberation Sans",
        "labelFontSize": 50,
        "labelColor": "#000000",
        "labelPadding": 16,
        "labelLimit": 0,
        "labelFlush": false,
        "labelOverlap": false,
        "tickSize": 14,
        "tickColor": "#000000",
        "tickWidth": 1.5,
        "domainColor": "#404040",
        "domainWidth": 2
      }
    },
    "y": {
      "field": "p",
      "type": "quantitative",
      "scale": {"domain": [0, 160], "nice": false, "zero": true},
      "axis": {
        "title": null,
        "values": [0, 20, 40, 60, 80, 100, 120, 140, 160],
        "format": "$,.2f",
        "labelFont": "Liberation Sans",
        "labelFontSize": 47,
        "labelColor": "#000000",
        "labelPadding": 27,
        "labelLimit": 0,
        "labelFlush": false,
        "labelOverlap": false,
        "tickSize": 14,
        "tickColor": "#000000",
        "tickWidth": 1.5,
        "domainColor": "#404040",
        "domainWidth": 2,
        "gridColor": "#333333",
        "gridWidth": 1.5,
        "gridOpacity": 1
      }
    }
  }
}
